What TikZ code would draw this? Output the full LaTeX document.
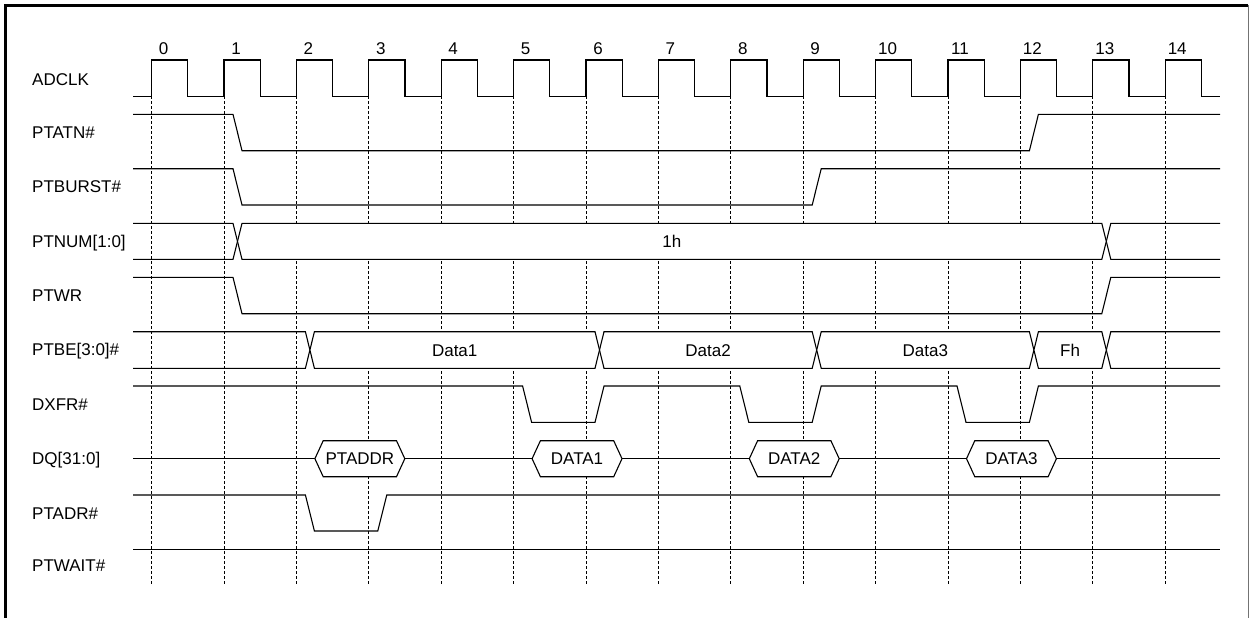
\documentclass[tikz,border=0pt]{standalone}
\usepackage{fontspec}
\setmainfont{Liberation Sans}
\newcommand\fs{\fontsize{17}{20}\selectfont}
\newcommand\xk[1]{(151.6+72.4*#1)}
% bus segment with value: crossing starts a (#1) and b (#2), top #3, bottom #4, name #5, text #6
\newcommand\busv[6]{%
  \draw[sig,fill=white] ({#1+4.5},{(#3+#4)/2}) -- ({#1+9},#3) -- ({#2},#3) -- ({#2+4.5},{(#3+#4)/2}) -- ({#2},#4) -- ({#1+9},#4) -- cycle;
  \node[txt] (#5) at ({(#1+9+#2)/2},{(#3+#4)/2+6.1}) {#6};}
% hexagon on DQ line: left point #1, right point #2, name #3, text #4
\newcommand\hexa[4]{%
  \draw[sig,fill=white] ({#1},458.7) -- ({#1+8.3},440.7) -- ({#2-8.3},440.7) -- ({#2},458.7) -- ({#2-8.3},476.7) -- ({#1+8.3},476.7) -- cycle;
  \node[txt] (#3) at ({(#1+#2)/2},464.8) {#4};}
\begin{document}
\begin{tikzpicture}[x=1pt,y=-1pt,
  sig/.style={line width=1.1pt, line join=miter},
  gridln/.style={line width=1pt, dash pattern=on 3pt off 2pt},
  lbl/.style={anchor=base west, inner sep=0pt, font=\fs},
  txt/.style={anchor=base, inner sep=0pt, font=\fs}]
\useasboundingbox (0,0) rectangle (1255,618);
% frame
\draw[line width=2.4pt] (5.5,618) -- (5.5,5.5) -- (1248,5.5);
\draw[line width=0.8pt, black!55] (1248.5,5.5) -- (1248.5,618);
% grid lines and cycle numbers
\foreach \k in {0,...,14}{
  \draw[gridln] ({\xk{\k}},96.3) -- ({\xk{\k}},586);
  \node[txt] (n\k) at ({\xk{\k}+12},55) {\k};
}
% signal labels
\node[lbl] (lADCLK) at (32,85) {ADCLK};
\node[lbl] (lPTATN) at (32,138) {PTATN\#};
\node[lbl] (lPTBURST) at (32,192.8) {PTBURST\#};
\node[lbl] (lPTNUM) at (32,247.2) {PTNUM[1:0]};
\node[lbl] (lPTWR) at (32,301) {PTWR};
\node[lbl] (lPTBE) at (32,355.9) {PTBE[3:0]\#};
\node[lbl] (lDXFR) at (32,410) {DXFR\#};
\node[lbl] (lDQ) at (32,464.6) {DQ[31:0]};
\node[lbl] (lPTADR) at (32,519) {PTADR\#};
\node[lbl] (lPTWAIT) at (32,571.5) {PTWAIT\#};
% ADCLK
\draw[sig] (133,96.3) foreach \k in {0,...,14}{ -- ({\xk{\k}},96.3) -- ({\xk{\k}},60) -- ({\xk{\k}+36.2},60) -- ({\xk{\k}+36.2},96.3) } -- (1220,96.3);
% PTATN#
\draw[sig] (133,114.3) -- ({\xk{1}+9},114.3) -- ({\xk{1}+18},150.7) -- ({\xk{12}+9},150.7) -- ({\xk{12}+18},114.3) -- (1220,114.3);
% PTBURST#
\draw[sig] (133,168.7) -- ({\xk{1}+9},168.7) -- ({\xk{1}+18},205) -- ({\xk{9}+9},205) -- ({\xk{9}+18},168.7) -- (1220,168.7);
% PTNUM[1:0]
\draw[sig] (133,223.3) -- ({\xk{1}+9},223.3) -- ({\xk{1}+13.5},241.3) -- ({\xk{1}+9},259.3) -- (133,259.3);
\draw[sig] (1220,223.3) -- ({\xk{13}+18},223.3) -- ({\xk{13}+13.5},241.3) -- ({\xk{13}+18},259.3) -- (1220,259.3);
\busv{\xk{1}+9}{\xk{13}+9}{223.3}{259.3}{v1h}{1h}
% PTWR
\draw[sig] (133,277.3) -- ({\xk{1}+9},277.3) -- ({\xk{1}+18},313.7) -- ({\xk{13}+9},313.7) -- ({\xk{13}+18},277.3) -- (1220,277.3);
% PTBE[3:0]#
\draw[sig] (133,331.7) -- ({\xk{2}+9},331.7) -- ({\xk{2}+13.5},350) -- ({\xk{2}+9},368.3) -- (133,368.3);
\draw[sig] (1220,331.7) -- ({\xk{13}+18},331.7) -- ({\xk{13}+13.5},350) -- ({\xk{13}+18},368.3) -- (1220,368.3);
\busv{\xk{2}+9}{\xk{6}+9}{331.7}{368.3}{vData1}{Data1}
\busv{\xk{6}+9}{\xk{9}+9}{331.7}{368.3}{vData2}{Data2}
\busv{\xk{9}+9}{\xk{12}+9}{331.7}{368.3}{vData3}{Data3}
\busv{\xk{12}+9}{\xk{13}+9}{331.7}{368.3}{vFh}{Fh}
% DXFR#
\draw[sig] (133,386) -- ({\xk{5}+9},386) -- ({\xk{5}+18},422.3) -- ({\xk{6}+9},422.3) -- ({\xk{6}+18},386)
  -- ({\xk{8}+9},386) -- ({\xk{8}+18},422.3) -- ({\xk{9}+9},422.3) -- ({\xk{9}+18},386)
  -- ({\xk{11}+9},386) -- ({\xk{11}+18},422.3) -- ({\xk{12}+9},422.3) -- ({\xk{12}+18},386) -- (1220,386);
% DQ[31:0]
\draw[sig] (133,458.7) -- (1220,458.7);
\hexa{\xk{2}+18.5}{\xk{3}+36}{hPTADDR}{PTADDR}
\hexa{\xk{5}+18.5}{\xk{6}+36}{hDATA1}{DATA1}
\hexa{\xk{8}+18.5}{\xk{9}+36}{hDATA2}{DATA2}
\hexa{\xk{11}+18.5}{\xk{12}+36}{hDATA3}{DATA3}
% PTADR#
\draw[sig] (133,495) -- ({\xk{2}+9},495) -- ({\xk{2}+18},531) -- ({\xk{3}+9},531) -- ({\xk{3}+18},495) -- (1220,495);
% PTWAIT#
\draw[sig] (133,549.3) -- (1220,549.3);
\end{tikzpicture}
\end{document}
